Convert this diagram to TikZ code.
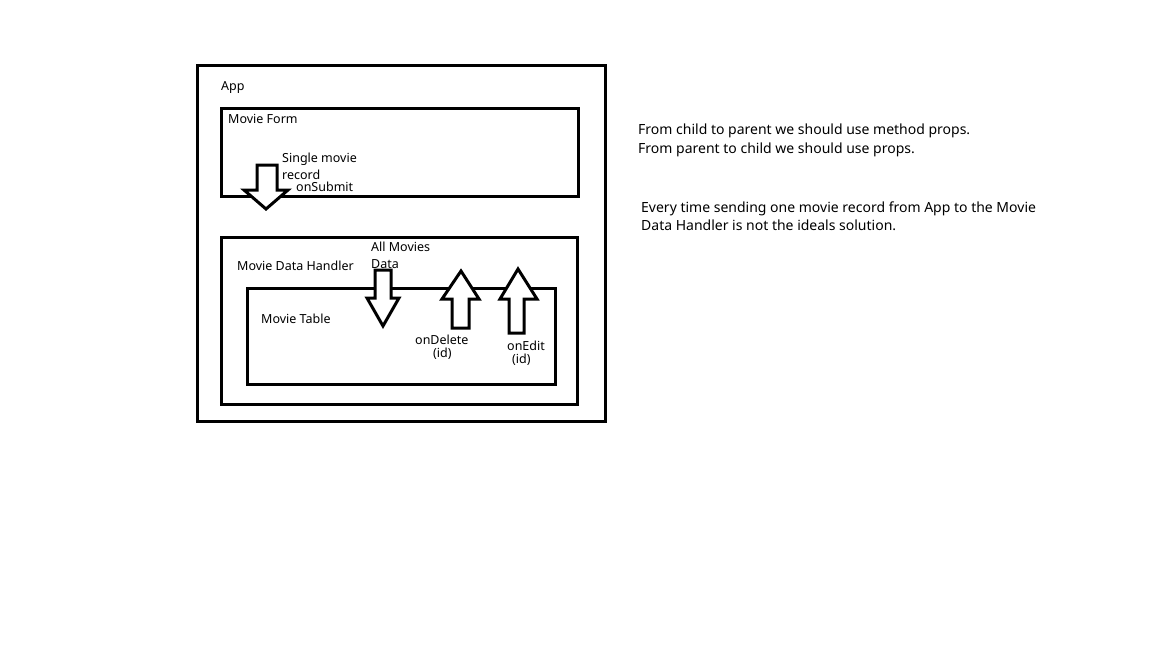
\documentclass[tikz,border=0pt]{standalone}
\usepackage{fontspec}
\setmainfont{Noto Sans}
\begin{document}
\begin{tikzpicture}[x=1pt,y=-1pt,
    box/.style={draw, line width=3pt, inner sep=0pt},
    blk/.style={draw, line width=3pt, fill=white, line join=miter},
    lbl/.style={anchor=base west, inner sep=0pt, font=\fontsize{12.5}{15}\selectfont},
    note/.style={anchor=base west, inner sep=0pt, font=\fontsize{14}{17}\selectfont}]
  \useasboundingbox (0,0) rectangle (1152,648);
  % boxes
  \node[box, minimum width=408pt, minimum height=356pt] (app) at (401,243) {};
  \node[box, minimum width=357pt, minimum height=88pt] (form) at (399.5,152) {};
  \node[box, minimum width=356pt, minimum height=167pt] (handler) at (399,321) {};
  \node[box, minimum width=308pt, minimum height=96pt] (table) at (401,336) {};
  % block arrows
  \draw[blk] (257,165) -- (277,165) -- (277,190) -- (288,190) -- (266,209)
    -- (244,190) -- (257,190) -- cycle;
  \draw[blk] (375,270) -- (391,270) -- (391,298) -- (399,298) -- (383,326)
    -- (367,298) -- (375,298) -- cycle;
  \draw[blk] (452,328) -- (469,328) -- (469,299) -- (479,299) -- (461,271)
    -- (442,299) -- (452,299) -- cycle;
  \draw[blk] (509,333) -- (524,333) -- (524,299) -- (537,299) -- (518,269)
    -- (500,299) -- (509,299) -- cycle;
  % labels
  \node[lbl] (tapp) at (221,90) {App};
  \node[lbl] (tform) at (228,123) {Movie Form};
  \node[lbl] (tsingle) at (282,162) {Single movie};
  \node[lbl] (trecord) at (282,179) {record};
  \node[lbl] (tsubmit) at (296,191) {onSubmit};
  \node[lbl] (tall) at (371,251) {All Movies};
  \node[lbl] (tdata) at (371,268) {Data};
  \node[lbl] (thandler) at (237,270) {Movie Data Handler};
  \node[lbl] (ttable) at (261,323) {Movie Table};
  \node[lbl] (tdelete) at (415,344) {onDelete};
  \node[lbl] (tdelid) at (433,357) {(id)};
  \node[lbl] (tedit) at (507,350) {onEdit};
  \node[lbl] (teditid) at (512,363) {(id)};
  % notes
  \node[note] (note1) at (638,134) {From child to parent we should use method props.};
  \node[note] (note2) at (638,153) {From parent to child we should use props.};
  \node[note] (note3) at (641,212) {Every time sending one movie record from App to the Movie};
  \node[note] (note4) at (641,230) {Data Handler is not the ideals solution.};
\end{tikzpicture}
\end{document}
